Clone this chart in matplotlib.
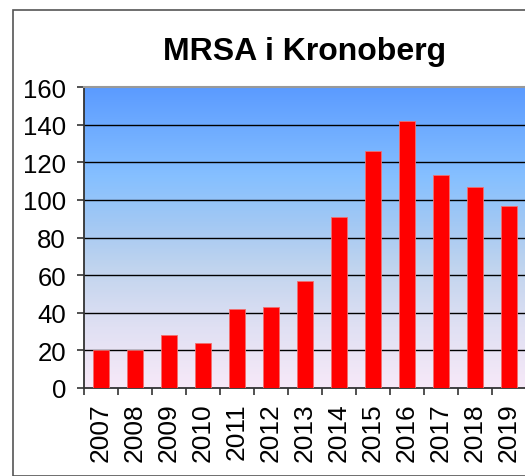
import numpy as np
import matplotlib
matplotlib.use("Agg")
import matplotlib.pyplot as plt
from matplotlib.colors import LinearSegmentedColormap
from matplotlib.patches import Rectangle

YEARS = ["2007", "2008", "2009", "2010", "2011", "2012", "2013",
         "2014", "2015", "2016", "2017", "2018", "2019"]
CASES = [20, 20, 28, 24, 42, 43, 57, 91, 126, 142, 113, 107, 97]
Y_TICKS = [0, 20, 40, 60, 80, 100, 120, 140, 160]
TITLE = "MRSA i Kronoberg"

plt.rcParams["font.family"] = ["Liberation Sans", "DejaVu Sans"]

fig = plt.figure(figsize=(5.25, 4.77), dpi=100)
ax = fig.add_axes([84 / 525, 88 / 477, 442 / 525, 301 / 477])

# gradient background (bottom -> top)
grad = LinearSegmentedColormap.from_list(
    "bg", [(0.0, "#f7e9f8"), (0.2, "#e0e0f3"), (0.4, "#c0d4ee"),
           (0.55, "#a2c8f4"), (0.7, "#86c0ff"), (1.0, "#5b9bff")])
ax.imshow(np.linspace(0, 1, 256).reshape(-1, 1), cmap=grad, origin="lower",
          aspect="auto", extent=[-0.5, len(YEARS) - 0.5, 0, 160], zorder=0)

x = np.arange(len(YEARS))
ax.bar(x, CASES, width=0.47, color="#ff0000", edgecolor="#f07070",
       linewidth=0.6, zorder=3)

ax.set_xlim(-0.5, len(YEARS) - 0.5)
ax.set_ylim(0, 160)
ax.set_yticks(Y_TICKS)
ax.set_yticklabels([str(v) for v in Y_TICKS], fontsize=18.5)
for v in Y_TICKS[1:-1]:
    ax.axhline(v, color="black", lw=1.0, zorder=2)

ax.set_xticks(x)
ax.set_xticklabels(YEARS, rotation=90, fontsize=19)
ax.set_xticks(np.arange(-0.5, len(YEARS)), minor=True)
ax.tick_params(axis="x", which="major", length=0, pad=10)
ax.tick_params(axis="x", which="minor", length=5, width=1.2, color="#333333")
ax.tick_params(axis="y", length=5, width=1.2, color="#333333", pad=8)

for side in ["left", "bottom"]:
    ax.spines[side].set_color("#333333")
    ax.spines[side].set_linewidth(1.3)
ax.spines["top"].set_color("#999999")
ax.spines["top"].set_linewidth(1.5)
ax.spines["right"].set_visible(False)

fig.text(305 / 525, 1 - 52 / 477, TITLE, ha="center", va="center",
         fontsize=23, fontweight="bold")

fig.patches.append(Rectangle((13 / 525, 0), 1.0, 1 - 11 / 477,
                             transform=fig.transFigure, fill=False,
                             edgecolor="#555555", lw=1.2))

fig.savefig("out.png", dpi=100)
